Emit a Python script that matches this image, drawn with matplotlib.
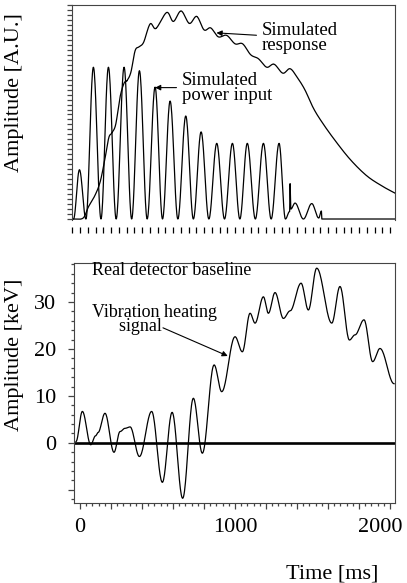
import numpy as np
import matplotlib
matplotlib.use("Agg")
import matplotlib.pyplot as plt
import matplotlib.transforms as mtransforms
from matplotlib.ticker import MultipleLocator, FuncFormatter

plt.rcParams["font.family"] = ["Liberation Serif", "DejaVu Serif"]

# simulated power input: peak / trough positions (ms, arbitrary units)
input_t = [-52, -42, -4, 38, 86, 135, 183, 233, 284, 333, 383, 433, 484, 532,
           581, 631, 682, 731, 781, 831, 882, 932, 983, 1031, 1079, 1131, 1183,
           1233, 1284, 1325, 1352, 1355, 1360, 1387, 1441, 1495, 1540, 1557,
           1560, 2032]
input_y = [0, 0, 9.9, 0, 30.5, 0, 30.5, 0, 30.5, 0, 29.8, 0, 26.5, 0,
           23.7, 0, 20.7, 0, 17.5, 0, 15.2, 0, 15.2, 0, 15.2, 0, 15.2,
           0, 15.2, 0, 1.5, 7.1, 2.0, 3.2, 0, 3.1, 0.2, 1.6,
           0, 0]

# simulated response (ms, arbitrary units)
resp_t = [-52, -39, 20, 55, 97, 130, 160, 185, 205, 230, 258, 284, 303, 328,
          355, 380, 410, 452, 490, 559, 602, 652, 705, 753, 800, 843, 892,
          946, 1000, 1049, 1101, 1151, 1204, 1252, 1308, 1355, 1400, 1450,
          1505, 1560, 1640, 1742, 1849, 1950, 2032]
resp_y = [0, 0, 0.2, 2.5, 4.8, 7.5, 12, 16.3, 17.3, 19, 24.5, 27.3, 27.8, 29.5,
          33.8, 34.6, 35.5, 39.2, 38.3, 41.5, 39.7, 41.8, 39.3, 40.7, 38, 38.4, 36.6,
          36.9, 35.2, 35.2, 33, 32.2, 30.5, 31.1, 29.3, 30.2, 28.5, 26,
          22.3, 19.5, 16, 12, 8.7, 6.6, 5.2]

# real detector baseline, vibration heating signal (ms, keV)
sig_t = [-26, 15, 69, 100, 116, 161, 219, 258, 290, 323, 383, 462, 531, 594,
         662, 731, 789, 865, 914, 1000, 1047, 1097, 1129, 1183, 1215, 1258,
         1312, 1355, 1426, 1473, 1527, 1624, 1677, 1738, 1774, 1832, 1888,
         1935, 2026]
sig_y = [0.3, 6.7, -0.4, 1.5, 2.2, 6.3, -2, 2.4, 3.1, 3.4, -2.9, 6.7, -8.4, 6.5,
         -11.8, 9.5, -2.2, 16.6, 10.9, 22.6, 19.4, 27.6, 25.5, 31.1, 27.6, 32,
         26.5, 28.1, 34, 28.3, 37.2, 25.5, 33.3, 21.9, 23, 26.2, 17.3,
         20.1, 12.6]


def cos_path(t, y, n=24):
    # smooth half-cosine joins between successive extrema
    xs, ys = [], []
    s = np.linspace(0, 1, n)
    w = (1 - np.cos(np.pi * s)) / 2
    for i in range(len(t) - 1):
        xs.append(t[i] + (t[i + 1] - t[i]) * s)
        ys.append(y[i] + (y[i + 1] - y[i]) * w)
    return np.concatenate(xs), np.concatenate(ys)


def catmull(t, y, n=20):
    p = np.column_stack([t, y]).astype(float)
    p = np.vstack([p[0], p, p[-1]])
    out = []
    s = np.linspace(0, 1, n)[:, None]
    for i in range(1, len(p) - 2):
        p0, p1, p2, p3 = p[i - 1], p[i], p[i + 1], p[i + 2]
        out.append(0.5 * ((2 * p1) + (-p0 + p2) * s + (2 * p0 - 5 * p1 + 4 * p2 - p3) * s ** 2
                          + (-p0 + 3 * p1 - 3 * p2 + p3) * s ** 3))
    out = np.vstack(out)
    return out[:, 0], out[:, 1]


fig = plt.figure(figsize=(4.07, 5.83), dpi=100)
ax1 = fig.add_axes([72 / 407, 1 - 220 / 583, 323 / 407, 215 / 583])
ax2 = fig.add_axes([74 / 407, 1 - 503 / 583, 321 / 407, 240 / 583])

SPINE = "#444444"
LW = 0.9

# ---- top panel
x, y = cos_path(input_t, input_y)
ax1.plot(x, y, color="black", lw=LW)
x, y = catmull(resp_t, resp_y)
ax1.plot(x, y, color="black", lw=LW)

ax1.set_xlim(-52, 2032)
ax1.set_ylim(-0.2, 43)
ax1.spines["bottom"].set_position(("outward", 5))
ax1.spines["bottom"].set_visible(False)
for s in ["left", "top", "right"]:
    ax1.spines[s].set_color(SPINE)
ax1.xaxis.set_major_locator(MultipleLocator(50))
ax1.yaxis.set_major_locator(MultipleLocator(1))
ax1.tick_params(axis="x", direction="out", length=4.3, width=0.9, color="black",
                labelbottom=False)
ax1.tick_params(axis="y", direction="out", length=3.8, width=0.9, color=SPINE,
                labelleft=False)
ax1.set_ylabel("Amplitude [A.U.]", fontsize=16)
ax1.yaxis.set_label_coords(-0.148, 0.595)

ax1.annotate("Simulated\nresponse", xy=(880, 37.4), xytext=(1174, 36.4),
             fontsize=13.5, ha="left", va="center", linespacing=0.85,
             arrowprops=dict(arrowstyle="-|>", lw=0.8, color="black",
                             mutation_scale=8, shrinkA=2, shrinkB=0))
ax1.annotate("Simulated\npower input", xy=(484, 26.4), xytext=(658, 26.4),
             fontsize=13.5, ha="left", va="center", linespacing=0.85,
             arrowprops=dict(arrowstyle="-|>", lw=0.8, color="black",
                             mutation_scale=8, shrinkA=2, shrinkB=0))

# ---- bottom panel
x, y = cos_path(sig_t, sig_y)
ax2.plot(x, y, color="black", lw=LW)
ax2.axhline(0, color="black", lw=1.9)

ax2.set_xlim(-39, 2032)
ax2.set_ylim(-12.8, 38.3)
for s in ax2.spines.values():
    s.set_color(SPINE)
ax2.xaxis.set_major_locator(MultipleLocator(200))
ax2.xaxis.set_minor_locator(MultipleLocator(40))
ax2.xaxis.set_major_formatter(FuncFormatter(lambda v, p: f"{v:.0f}" if abs(v) % 1000 < 1 else ""))
ax2.yaxis.set_major_locator(MultipleLocator(10))
ax2.yaxis.set_minor_locator(MultipleLocator(2))
ax2.yaxis.set_major_formatter(FuncFormatter(lambda v, p: f"{v:.0f}" if v > -1 else ""))
ax2.tick_params(axis="both", which="major", direction="out", length=4, width=0.9,
                color=SPINE, labelsize=16)
ax2.tick_params(axis="both", which="minor", direction="out", length=2.5, width=0.9,
                color=SPINE)
ax2.tick_params(axis="x", pad=7)
ax2.tick_params(axis="y", pad=9)
ax2.set_ylabel("Amplitude [keV]", fontsize=16)
ax2.yaxis.set_label_coords(-0.156, 0.617)
ax2.set_xlabel("Time [ms]", fontsize=16)
ax2.xaxis.set_label_coords(0.804, -0.255)

fig.canvas.draw()
for lab in ax2.get_xticklabels():
    if lab.get_text() == "2000":
        lab.set_transform(lab.get_transform() + mtransforms.ScaledTranslation(-10 / 100, 0, fig.dpi_scale_trans))

ax2.text(77, 36.6, "Real detector baseline", fontsize=13, ha="left", va="center")
ax2.text(77, 26.3, "Vibration heating\n      signal", fontsize=13, ha="left",
         va="center", linespacing=0.8, multialignment="left")
ax2.annotate("", xy=(953, 18.5), xytext=(535, 24.5),
             arrowprops=dict(arrowstyle="-|>", lw=0.8, color="black",
                             mutation_scale=8, shrinkA=0, shrinkB=0))

fig.savefig("out.png", dpi=100)
